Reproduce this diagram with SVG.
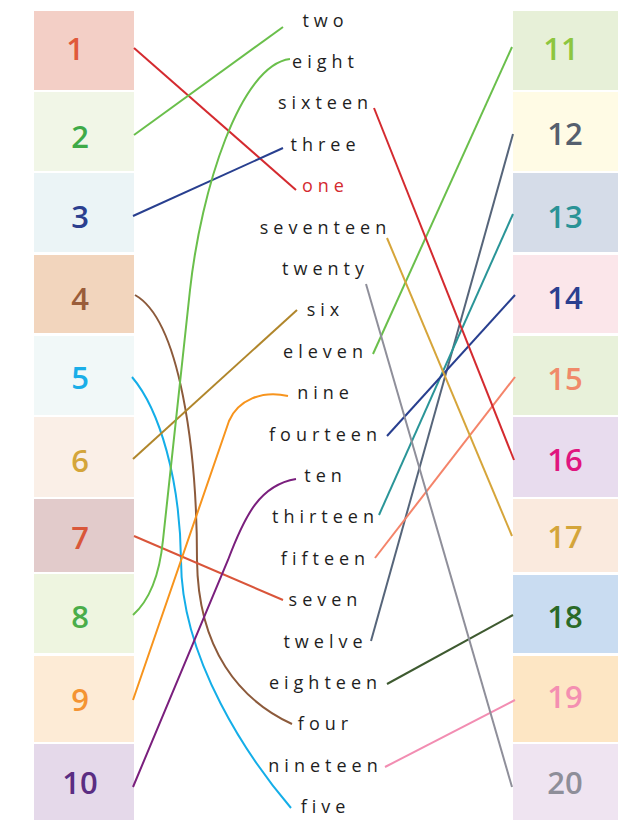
<svg xmlns="http://www.w3.org/2000/svg" width="620" height="820" viewBox="0 0 620 820">
<style>
.num{font-family:"Open Sans","Noto Sans","Liberation Sans",sans-serif;font-weight:600;font-size:31px;text-anchor:middle}
.w{font-family:"Open Sans","Noto Sans","Liberation Sans",sans-serif;font-size:18px;letter-spacing:5px;fill:#1e1e1e;text-anchor:middle}
.ln{fill:none;stroke-width:2;stroke-linecap:butt}
</style>
<rect width="620" height="820" fill="#fff"/>
<g id="left">
<g id="n1"><rect x="34" y="11" width="100" height="79" fill="#f3cfc6"/><text class="num" x="75" y="60" fill="#e0593a">1</text></g>
<g id="n2"><rect x="34" y="92" width="100" height="79" fill="#f1f6e7"/><text class="num" x="80" y="148" fill="#3eaa48">2</text></g>
<g id="n3"><rect x="34" y="173" width="100" height="79" fill="#ebf4f6"/><text class="num" x="80" y="228" fill="#2b3f8f">3</text></g>
<g id="n4"><rect x="34" y="255" width="100" height="78" fill="#f2d5bd"/><text class="num" x="80" y="310" fill="#9a5d3a">4</text></g>
<g id="n5"><rect x="34" y="336" width="100" height="79" fill="#f1f8f8"/><text class="num" x="80" y="389" fill="#1aaee8">5</text></g>
<g id="n6"><rect x="34" y="417" width="100" height="80" fill="#faefe7"/><text class="num" x="80" y="472" fill="#d4a53a">6</text></g>
<g id="n7"><rect x="34" y="499" width="100" height="73" fill="#e2cbcb"/><text class="num" x="80" y="549" fill="#d9573a">7</text></g>
<g id="n8"><rect x="34" y="574" width="100" height="79" fill="#eef5e0"/><text class="num" x="80" y="628" fill="#4aad4a">8</text></g>
<g id="n9"><rect x="34" y="656" width="100" height="86" fill="#fdebd6"/><text class="num" x="80" y="711" fill="#f49433">9</text></g>
<g id="n10"><rect x="34" y="744" width="100" height="76" fill="#e5d9ea"/><text class="num" x="80" y="794" fill="#5a2d82">10</text></g>
</g>
<g id="right">
<g id="n11"><rect x="513" y="11" width="105" height="79" fill="#e7f0d8"/><text class="num" x="561" y="60" fill="#8dc63f">11</text></g>
<g id="n12"><rect x="513" y="92" width="105" height="79" fill="#fffbe5"/><text class="num" x="565" y="145" fill="#555f6e">12</text></g>
<g id="n13"><rect x="513" y="173" width="105" height="79" fill="#d5dce8"/><text class="num" x="565" y="228" fill="#2a9396">13</text></g>
<g id="n14"><rect x="513" y="255" width="105" height="78" fill="#fbe6ea"/><text class="num" x="565" y="309" fill="#2b3f8f">14</text></g>
<g id="n15"><rect x="513" y="336" width="105" height="79" fill="#e8f1da"/><text class="num" x="565" y="390" fill="#f08a6a">15</text></g>
<g id="n16"><rect x="513" y="417" width="105" height="80" fill="#e8dcee"/><text class="num" x="565" y="471" fill="#e0157f">16</text></g>
<g id="n17"><rect x="513" y="499" width="105" height="73" fill="#faeade"/><text class="num" x="565" y="548" fill="#d4a53a">17</text></g>
<g id="n18"><rect x="513" y="575" width="105" height="78" fill="#c9dcf1"/><text class="num" x="565" y="628" fill="#2a6a27">18</text></g>
<g id="n19"><rect x="513" y="656" width="105" height="86" fill="#fde6c4"/><text class="num" x="565" y="708" fill="#f48fb1">19</text></g>
<g id="n20"><rect x="513" y="744" width="105" height="76" fill="#efe4f1"/><text class="num" x="565" y="794" fill="#8e8e99">20</text></g>
</g>
<g id="words">
<text class="w" x="325.5" y="26.5">two</text>
<text class="w" x="325.5" y="67.9">eight</text>
<text class="w" x="325.5" y="109.3">sixteen</text>
<text class="w" x="325.5" y="150.7">three</text>
<text class="w" x="325.5" y="192.1" style="fill:#d42a2f">one</text>
<text class="w" x="325.5" y="233.5">seventeen</text>
<text class="w" x="325.5" y="274.9">twenty</text>
<text class="w" x="325.5" y="316.3">six</text>
<text class="w" x="325.5" y="357.7">eleven</text>
<text class="w" x="325.5" y="399.1">nine</text>
<text class="w" x="325.5" y="440.5">fourteen</text>
<text class="w" x="325.5" y="481.9">ten</text>
<text class="w" x="325.5" y="523.3">thirteen</text>
<text class="w" x="325.5" y="564.7">fifteen</text>
<text class="w" x="325.5" y="606.1">seven</text>
<text class="w" x="325.5" y="647.5">twelve</text>
<text class="w" x="325.5" y="688.9">eighteen</text>
<text class="w" x="325.5" y="730.3">four</text>
<text class="w" x="325.5" y="771.7">nineteen</text>
<text class="w" x="325.5" y="813.1">five</text>
</g>
<g id="connectors">
<path class="ln" stroke="#d42a2f" d="M134,48 L296,190"/>
<path class="ln" stroke="#6abf4b" d="M134,135 L283,27"/>
<path class="ln" stroke="#283f8f" d="M133,216 L283,148"/>
<path class="ln" stroke="#8c5a3b" d="M135,295 C180,320 197,450 197,560 C198,650 240,700 292,724"/>
<path class="ln" stroke="#14aee8" d="M132,377 C160,410 180,480 181,560 C181,660 250,760 291,808"/>
<path class="ln" stroke="#b0862b" d="M133,459 L297,310"/>
<path class="ln" stroke="#d9553a" d="M134,536 L283,600"/>
<path class="ln" stroke="#6abf4b" d="M133,615 C152,598 160,570 163,540 L190,290 C201,190 240,65 290,59"/>
<path class="ln" stroke="#f7941d" d="M133,700 L229,421 C238,400 262,390 288,396"/>
<path class="ln" stroke="#7a1f7d" d="M133,787 L228,560 C245,515 260,485 296,479"/>
<path class="ln" stroke="#6abf4b" d="M373,354 L512,47"/>
<path class="ln" stroke="#56657a" d="M371,641 L513,134"/>
<path class="ln" stroke="#2a9598" d="M379,515 L513,214"/>
<path class="ln" stroke="#283f8f" d="M387,436 L515,295"/>
<path class="ln" stroke="#f4846a" d="M375,558 L515,377"/>
<path class="ln" stroke="#d42a2f" d="M374,108 L514,460"/>
<path class="ln" stroke="#d6a53a" d="M387,238 L512,536"/>
<path class="ln" stroke="#3e5a30" d="M387,684 L513,615"/>
<path class="ln" stroke="#f28db2" d="M385,767 L515,700"/>
<path class="ln" stroke="#8f8f9a" d="M366,284 L512,787"/>
</g>
</svg>
